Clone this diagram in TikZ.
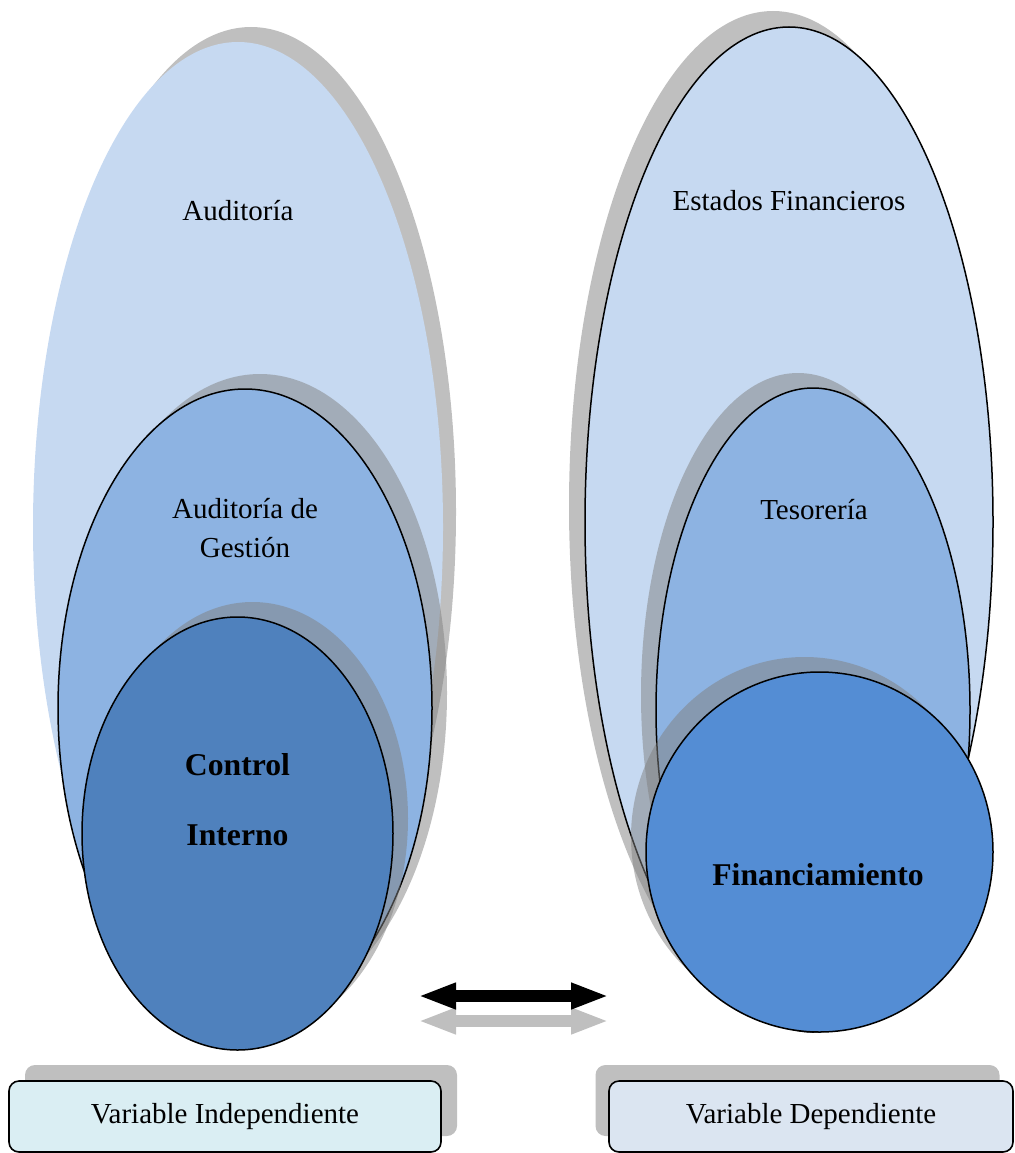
\documentclass[tikz,border=0pt]{standalone}
\usepackage{fontspec}
\setmainfont{Liberation Serif}
\usetikzlibrary{shapes.geometric,arrows.meta}
\definecolor{lightblue}{HTML}{C6D9F1}
\definecolor{midblue}{HTML}{8DB3E2}
\definecolor{ctrlblue}{HTML}{4F81BD}
\definecolor{finblue}{HTML}{548DD4}
\definecolor{boxone}{HTML}{DAEEF3}
\definecolor{boxtwo}{HTML}{DBE5F1}
\definecolor{shgray}{HTML}{808080}
\definecolor{lgray}{HTML}{BFBFBF}
\begin{document}
\begin{tikzpicture}[x=1pt,y=-1pt,
  ell/.style={ellipse, inner sep=0pt, outer sep=0pt, line width=1.5pt, draw=black},
  shad/.style={ellipse, inner sep=0pt, outer sep=0pt, fill=shgray, fill opacity=0.5, draw=none},
  lbl/.style={anchor=base, font=\fontsize{29}{34}\selectfont, inner sep=0pt},
  blbl/.style={anchor=base, font=\fontsize{31.7}{36}\selectfont\bfseries, inner sep=0pt},
  vbox/.style={rounded corners=10pt, line width=1.6pt, draw=black, minimum width=432pt, minimum height=71pt, inner sep=0pt, font=\fontsize{29}{34}\selectfont},
  vshad/.style={rounded corners=10pt, fill=lgray, draw=none, minimum width=432pt, minimum height=71pt, inner sep=0pt},
  dblarrow/.style={line width=12pt, {Triangle[length=38pt,width=24pt]}-{Triangle[length=38pt,width=24pt]}}
]
\useasboundingbox (0,0) rectangle (1014,1153);

% ---------- left group ----------
\node[shad, minimum width=410pt, minimum height=970pt] (audS) at (251,512) {};
\node[ell, draw=none, fill=lightblue, minimum width=410pt, minimum height=970pt] (aud) at (238,527) {};
\node[shad, minimum width=374pt, minimum height=638pt] (gesS) at (260,693) {};
\node[ell, fill=midblue, minimum width=374pt, minimum height=638pt] (ges) at (245,708) {};
\node[shad, minimum width=311pt, minimum height=433pt] (ctlS) at (252.5,818.5) {};
\node[ell, fill=ctrlblue, minimum width=311pt, minimum height=433pt] (ctl) at (237.5,833.5) {};

\node[lbl] (tAud) at (238,220) {Auditoría};
\node[lbl] (tGes1) at (245,518) {Auditoría de};
\node[lbl] (tGes2) at (245,557) {Gestión};
\node[blbl] (tCtl1) at (237.5,775) {Control};
\node[blbl] (tCtl2) at (237.5,845) {Interno};

% ---------- right group ----------
\node[shad, minimum width=408pt, minimum height=990pt] (efS) at (773,506) {};
\node[ell, fill=lightblue, minimum width=408pt, minimum height=990pt] (ef) at (789,522) {};
\node[shad, minimum width=314pt, minimum height=644pt] (tesS) at (798,695) {};
\node[ell, fill=midblue, minimum width=314pt, minimum height=644pt] (tes) at (813,710) {};
\node[shad, minimum width=347pt, minimum height=360pt] (finS) at (804.5,837) {};
\node[ell, fill=finblue, minimum width=347pt, minimum height=360pt] (fin) at (819.5,852) {};

\node[lbl] (tEf) at (789,210) {Estados Financieros};
\node[lbl] (tTes) at (814,519) {Tesorería};
\node[blbl] (tFin) at (818,885) {Financiamiento};

% ---------- arrows ----------
\coordinate (alS) at (418,1021);
\coordinate (arS) at (609,1021);
\coordinate (al) at (418,996);
\coordinate (ar) at (609,996);
\draw[dblarrow, lgray] (alS) -- (arS);
\draw[dblarrow, black] (al) -- (ar);

% ---------- boxes ----------
\node[vshad] (vindS) at (241,1100.5) {};
\node[vbox, fill=boxone] (vind) at (225,1116.5) {Variable Independiente};
\node[vshad, minimum width=404pt] (vdepS) at (797.5,1100.5) {};
\node[vbox, fill=boxtwo, minimum width=404pt] (vdep) at (811,1116.5) {Variable Dependiente};
\end{tikzpicture}
\end{document}
